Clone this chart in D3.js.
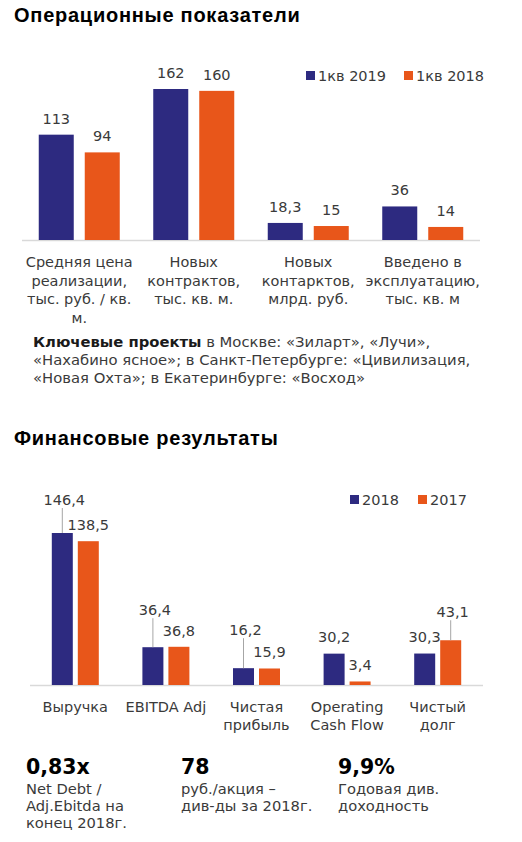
<!DOCTYPE html>
<html><head><meta charset="utf-8">
<script src="https://cdn.jsdelivr.net/npm/d3@7"></script>
<style>
html,body{margin:0;padding:0;background:#fff;}
svg{display:block;}
</style></head>
<body>
<script>
// ---- data ----
const opTitle = "Операционные показатели";
const opCategories = [
  ["Средняя цена","реализации,","тыс. руб. / кв.","м."],
  ["Новых","контрактов,","тыс. кв. м."],
  ["Новых","контарктов,","млрд. руб."],
  ["Введено в","эксплуатацию,","тыс. кв. м"]
];
const opSeriesNames = ["1кв 2019","1кв 2018"];
const op2019 = [113, 162, 18.3, 36];
const op2018 = [94, 160, 15, 14];

const noteBold = "Ключевые проекты";
const noteLines = [
  " в Москве: «Зиларт», «Лучи»,",
  "«Нахабино ясное»; в Санкт-Петербурге: «Цивилизация,",
  "«Новая Охта»; в Екатеринбурге: «Восход»"
];

const finTitle = "Финансовые результаты";
const finCategories = [
  ["Выручка"],["EBITDA Adj"],["Чистая","прибыль"],["Operating","Cash Flow"],["Чистый","долг"]
];
const finSeriesNames = ["2018","2017"];
const fin2018 = [146.4, 36.4, 16.2, 30.2, 30.3];
const fin2017 = [138.5, 36.8, 15.9, 3.4, 43.1];

const statValues = ["0,83x","78","9,9%"];
const statTexts = [
  ["Net Debt /","Adj.Ebitda на","конец 2018г."],
  ["руб./акция –","див-ды за 2018г."],
  ["Годовая див.","доходность"]
];

// ---- layout/style ----
const BLUE = "#2d2a80", ORANGE = "#e8561a", TXT = "#3a3a3a";
const FONT = "'DejaVu Sans', Verdana, sans-serif";
const TFONT = "'Liberation Sans', Arial, sans-serif";
const fmt = v => String(v).replace(".", ",");

const W = 522, H = 842;
const svg = d3.select("body").append("svg").attr("width", W).attr("height", H);

// Titles
svg.append("text").attr("x",14).attr("y",22).text(opTitle)
  .attr("font-family",TFONT).attr("font-weight","bold").attr("font-size",20)
  .attr("letter-spacing",0.75).attr("fill","#000");
svg.append("text").attr("x",14).attr("y",445).text(finTitle)
  .attr("font-family",TFONT).attr("font-weight","bold").attr("font-size",20)
  .attr("letter-spacing",0.75).attr("fill","#000");

// ---- Operational chart ----
{
  const base = 240;
  const x = d3.scaleBand().domain(d3.range(op2019.length)).range([22,480]).padding(0);
  const y = d3.scaleLinear().domain([0,162]).range([base, 89]);
  const g = svg.append("g");
  g.append("line").attr("x1",22).attr("x2",480).attr("y1",base+0.5).attr("y2",base+0.5)
    .attr("stroke","#d9d9d9").attr("stroke-width",1.5);
  const series = [{vals:op2019,color:BLUE,off:-40.5},{vals:op2018,color:ORANGE,off:5.5}];
  const bw = 35;
  series.forEach(s=>{
    s.vals.forEach((v,i)=>{
      const cx = x(i)+x.bandwidth()/2;
      g.append("rect").attr("x",cx+s.off).attr("width",bw)
        .attr("y",y(v)).attr("height",base-y(v)).attr("fill",s.color);
      g.append("text").attr("x",cx+s.off+bw/2).attr("y",y(v)-11)
        .attr("text-anchor","middle").attr("font-family",FONT).attr("font-size",14.5)
        .attr("fill",TXT).text(fmt(v));
    });
  });
  opCategories.forEach((lines,i)=>{
    const cx = x(i)+x.bandwidth()/2;
    const t = g.append("text").attr("text-anchor","middle").attr("font-family",FONT)
      .attr("font-size",14.5).attr("fill",TXT);
    lines.forEach((l,j)=>t.append("tspan").attr("x",cx).attr("y",267+j*18.5).text(l));
  });
  // legend
  const lg = svg.append("g").attr("font-family",FONT).attr("font-size",14.5).attr("fill",TXT);
  [[306,BLUE],[404,ORANGE]].forEach(([lx,c],k)=>{
    lg.append("rect").attr("x",lx).attr("y",71).attr("width",9).attr("height",9).attr("fill",c);
    lg.append("text").attr("x",lx+12).attr("y",81).text(opSeriesNames[k]);
  });
}

// Note text
{
  const t = svg.append("text").attr("font-family",FONT).attr("font-size",14.8).attr("fill",TXT);
  t.append("tspan").attr("x",33).attr("y",347).attr("font-weight","bold").attr("fill","#1a1a1a").text(noteBold);
  t.append("tspan").text(noteLines[0]);
  t.append("tspan").attr("x",33).attr("y",365).text(noteLines[1]);
  t.append("tspan").attr("x",33).attr("y",383).text(noteLines[2]);
}

// ---- Financial chart ----
{
  const base = 685;
  const x = d3.scaleBand().domain(d3.range(fin2018.length)).range([30,483]).padding(0);
  const y = d3.scaleLinear().domain([0,146.4]).range([base, 533]);
  const g = svg.append("g");
  g.append("line").attr("x1",30).attr("x2",483).attr("y1",base+0.5).attr("y2",base+0.5)
    .attr("stroke","#d9d9d9").attr("stroke-width",1.5);
  const lift2018 = [33,37,38,17,17];
  const lift2017 = [16,16,16,16,28];
  const series = [{vals:fin2018,color:BLUE,off:-23.5,lift:lift2018},{vals:fin2017,color:ORANGE,off:2.5,lift:lift2017}];
  const bw = 21;
  series.forEach(s=>{
    s.vals.forEach((v,i)=>{
      const cx = x(i)+x.bandwidth()/2;
      const bx = cx+s.off+bw/2;
      g.append("rect").attr("x",cx+s.off).attr("width",bw)
        .attr("y",y(v)).attr("height",base-y(v)).attr("fill",s.color);
      const ly = y(v)-s.lift[i];
      if (s.lift[i] > 20) {
        g.append("line").attr("x1",bx).attr("x2",bx).attr("y1",ly+8).attr("y2",y(v))
          .attr("stroke","#a6a6a6").attr("stroke-width",1);
      }
      g.append("text").attr("x",bx+ (s.lift[i]>20 ? 2 : 0)).attr("y",ly+5)
        .attr("text-anchor","middle").attr("font-family",FONT).attr("font-size",14.5)
        .attr("fill",TXT).text(fmt(v));
    });
  });
  finCategories.forEach((lines,i)=>{
    const cx = x(i)+x.bandwidth()/2;
    const t = g.append("text").attr("text-anchor","middle").attr("font-family",FONT)
      .attr("font-size",14.5).attr("fill",TXT);
    lines.forEach((l,j)=>t.append("tspan").attr("x",cx).attr("y",712+j*17.5).text(l));
  });
  const lg = svg.append("g").attr("font-family",FONT).attr("font-size",14.5).attr("fill",TXT);
  [[350,BLUE],[418,ORANGE]].forEach(([lx,c],k)=>{
    lg.append("rect").attr("x",lx).attr("y",495).attr("width",9).attr("height",9).attr("fill",c);
    lg.append("text").attr("x",lx+12).attr("y",505).text(finSeriesNames[k]);
  });
}

// Stats
{
  const xs = [26,181,338];
  statValues.forEach((v,i)=>{
    svg.append("text").attr("x",xs[i]).attr("y",774).attr("font-family",FONT)
      .attr("font-weight","bold").attr("font-size",20.5).attr("fill","#000").text(v);
    const t = svg.append("text").attr("font-family",FONT).attr("font-size",14.7).attr("fill",TXT);
    statTexts[i].forEach((l,j)=>t.append("tspan").attr("x",xs[i]).attr("y",794+j*17).text(l));
  });
}
</script>
</body></html>
